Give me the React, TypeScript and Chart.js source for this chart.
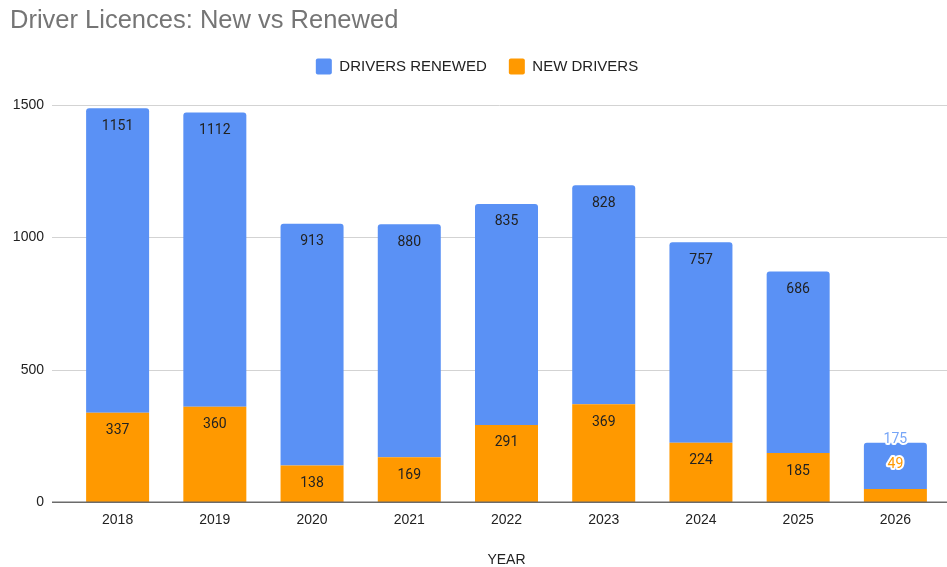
import React, { useEffect, useRef } from "react";
import { Chart, registerables } from "chart.js";

Chart.register(...registerables);

const years = ["2018", "2019", "2020", "2021", "2022", "2023", "2024", "2025", "2026"];
const renewed = [1151, 1112, 913, 880, 835, 828, 757, 686, 175];
const newDrivers = [337, 360, 138, 169, 291, 369, 224, 185, 49];
const yTicks = [0, 500, 1000, 1500];

const BLUE = "#5a91f5";
const ORANGE = "#ff9900";
const FONT = "'Liberation Sans', Arial, sans-serif";
const LABEL_FONT = "Roboto, 'Liberation Sans', Arial, sans-serif";

const legendHeightPlugin = {
  id: "legendHeight",
  beforeLayout(chart: any) {
    const lg = chart.legend;
    if (lg && !lg._patched) {
      const f = lg.fit;
      lg.fit = function () {
        f.call(this);
        this.height = 105 - 6 - 30.6;
      };
      lg._patched = true;
    }
  },
};

const gridPlugin = {
  id: "customGrid",
  beforeDatasetsDraw(chart: any) {
    const { ctx, chartArea } = chart;
    const y = chart.scales.y;
    ctx.save();
    ctx.lineWidth = 1;
    ctx.strokeStyle = "#d3d3d3";
    y.ticks.forEach((t: any) => {
      if (t.value === 0) return;
      const py = Math.round(y.getPixelForValue(t.value)) + 0.5;
      ctx.beginPath();
      ctx.moveTo(chartArea.left - 17, py);
      ctx.lineTo(chart.width, py);
      ctx.stroke();
    });
    ctx.restore();
  },
  afterDatasetsDraw(chart: any) {
    const { ctx, chartArea } = chart;
    const y = chart.scales.y;
    ctx.save();
    ctx.lineWidth = 1.5;
    ctx.strokeStyle = "#6b6b6b";
    const py = Math.round(y.getPixelForValue(0)) + 0.25;
    ctx.beginPath();
    ctx.moveTo(chartArea.left - 17, py);
    ctx.lineTo(chart.width, py);
    ctx.stroke();
    ctx.restore();
  },
};

const labelPlugin = {
  id: "barLabels",
  afterDatasetsDraw(chart: any) {
    const ctx = chart.ctx;
    const n = chart.data.labels.length;
    ctx.save();
    ctx.font = `14px ${LABEL_FONT}`;
    ctx.textAlign = "center";
    ctx.textBaseline = "middle";
    for (let j = 0; j < n; j++) {
      let prevOutside = false;
      chart.data.datasets.forEach((ds: any, i: number) => {
        const meta = chart.getDatasetMeta(i);
        if (meta.hidden) return;
        const el: any = meta.data[j];
        if (!el) return;
        const val = String(ds.data[j]);
        const h = el.base - el.y;
        if (h < 24 || prevOutside) {
          const ty = h < 24 ? el.y - 25 : el.y - 3;
          ctx.lineJoin = "round";
          ctx.lineWidth = 4;
          ctx.strokeStyle = "#ffffff";
          ctx.strokeText(val, el.x, ty);
          ctx.fillStyle = h < 24 ? ds.backgroundColor : "#76a5f7";
          ctx.fillText(val, el.x, ty);
          prevOutside = true;
        } else {
          ctx.fillStyle = "#222222";
          ctx.fillText(val, el.x, el.y + 18);
        }
      });
    }
    ctx.restore();
  },
};

export default function App() {
  const ref = useRef<HTMLCanvasElement | null>(null);

  useEffect(() => {
    if (!ref.current) return;
    const chart = new Chart(ref.current, {
      type: "bar",
      data: {
        labels: years,
        datasets: [
          {
            label: "NEW DRIVERS",
            data: newDrivers,
            backgroundColor: ORANGE,
            borderRadius: 3,
            categoryPercentage: 1,
            barPercentage: 0.648,
          },
          {
            label: "DRIVERS RENEWED",
            data: renewed,
            backgroundColor: BLUE,
            borderRadius: 3,
            categoryPercentage: 1,
            barPercentage: 0.648,
          },
        ],
      },
      options: {
        responsive: false,
        animation: false,
        devicePixelRatio: 1,
        layout: { padding: { left: 10, right: 3, top: 0, bottom: 0 } },
        plugins: {
          title: {
            display: true,
            text: "Driver Licences: New vs Renewed",
            align: "start",
            color: "#757575",
            font: { family: FONT, size: 25.5, weight: "normal", lineHeight: 1.2 },
            padding: { top: 6, bottom: 0 },
          },
          legend: {
            display: true,
            position: "top",
            reverse: true,
            labels: {
              boxWidth: 16,
              boxHeight: 16,
              useBorderRadius: true,
              borderRadius: 2,
              padding: 22,
              color: "#222222",
              font: { family: FONT, size: 15 },
            },
          },
          tooltip: { enabled: false },
        },
        scales: {
          x: {
            stacked: true,
            grid: { display: false, drawTicks: false },
            border: { display: false },
            ticks: {
              color: "#222222",
              font: { family: FONT, size: 14 },
              padding: 10,
            },
            title: {
              display: true,
              text: "YEAR",
              color: "#222222",
              font: { family: FONT, size: 14, lineHeight: 1 },
              padding: { top: 0, bottom: 0 },
            },
            afterFit: (scale: any) => {
              scale.height = 65;
            },
          },
          y: {
            stacked: true,
            min: 0,
            max: 1500,
            grid: { display: false, drawTicks: false },
            border: { display: false },
            afterBuildTicks: (scale: any) => {
              scale.ticks = yTicks.map((v) => ({ value: v }));
            },
            ticks: {
              color: "#222222",
              font: { family: FONT, size: 14 },
              padding: 25,
              callback: (v: any) => String(v),
            },
            afterFit: (scale: any) => {
              scale.width = 59;
            },
          },
        },
      },
      plugins: [legendHeightPlugin, gridPlugin, labelPlugin],
    } as any);
    return () => chart.destroy();
  }, []);

  return (
    <div style={{ position: "absolute", left: 0, top: 0, width: 947, height: 567 }}>
      <canvas ref={ref} width={947} height={567} />
    </div>
  );
}
